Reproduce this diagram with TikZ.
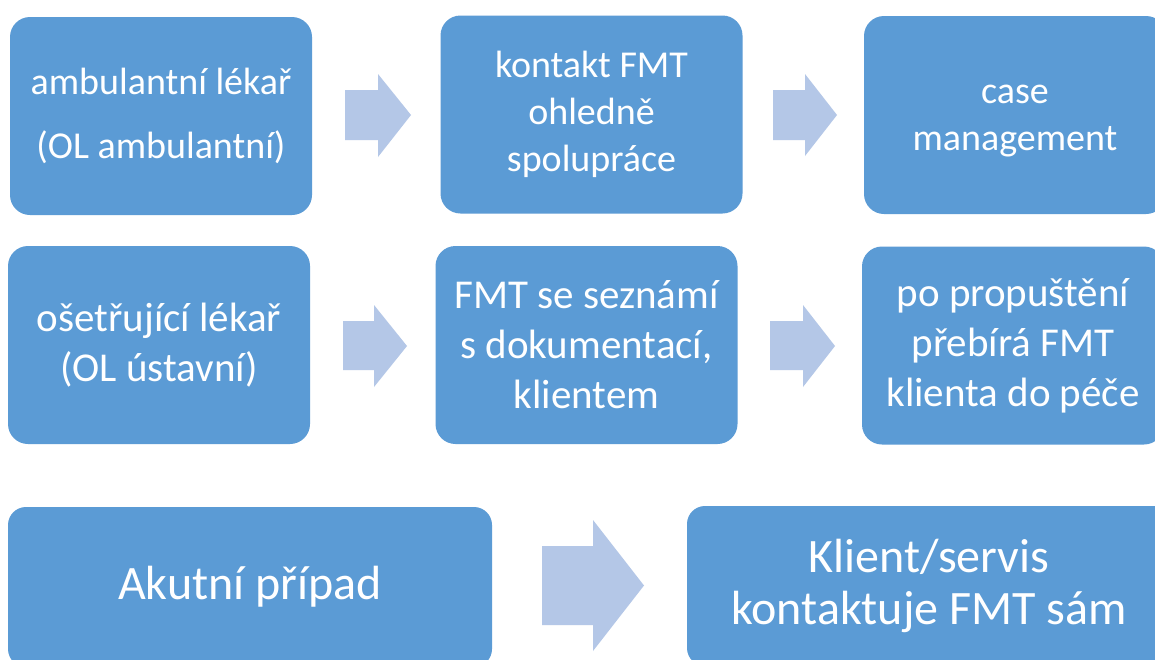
\documentclass[tikz,border=0pt]{standalone}
\usepackage{fontspec}
\setmainfont{Carlito}
\definecolor{boxblue}{HTML}{5B9BD5}
\definecolor{arrowblue}{HTML}{B4C7E7}
\begin{document}
\begin{tikzpicture}[x=1pt,y=-1pt,
  box/.style={fill=boxblue, draw=none, rounded corners=20pt, inner sep=0pt,
    text=white, align=center, minimum width=302pt, minimum height=198pt},
  label/.style={text=white, align=center, inner sep=0pt},
  rowone/.style={font=\fontsize{38}{47}\selectfont},
  rowtwo/.style={font=\fontsize{41}{50}\selectfont},
  rowthree/.style={font=\fontsize{48}{52}\selectfont, minimum width=484pt, minimum height=160pt, rounded corners=18pt},
  blockarrow/.style={fill=arrowblue, draw=none}]
\useasboundingbox (0,0) rectangle (1155,659);
\clip (0,0) rectangle (1155,659);
\fill[white] (0,0) rectangle (1155,659);
% row 1
\node[box, rowone] (b1) at (161,116) {ambulantní lékař\\[17pt](OL ambulantní)};
\node[box, rowone] (b2) at (591.5,114.5) {kontakt FMT\\ohledně\\spolupráce};
\node[box, rowone] (b3) at (1015,115) {};
\node[label, rowone] (b3t) at (1015,121) {case\\management};
% row 2
\node[box, rowtwo] (b4) at (159,345) {ošetřující lékař\\(OL ústavní)};
\node[box, rowtwo] (b5) at (586.5,345) {FMT se seznámí\\s dokumentací,\\klientem};
\node[box, rowtwo] (b6) at (1013,345.5) {po propuštění\\přebírá FMT\\klienta do péče};
% row 3
\node[box, rowthree] (b7) at (250,587) {Akutní případ};
\node[box, rowthree] (b8) at (929,586) {Klient/servis\\kontaktuje FMT sám};
% block arrows
\fill[blockarrow] (345,90) -- (378,90) -- (378,74) -- (411,115) -- (378,157) -- (378,140) -- (345,140) -- cycle;
\fill[blockarrow] (773,90) -- (805,90) -- (805,74) -- (837,115) -- (805,156) -- (805,140) -- (773,140) -- cycle;
\fill[blockarrow] (343,321) -- (374,321) -- (374,305) -- (407,346) -- (374,387) -- (374,370) -- (343,370) -- cycle;
\fill[blockarrow] (770,321) -- (803,321) -- (803,305) -- (835,346) -- (803,387) -- (803,370) -- (770,370) -- cycle;
\fill[blockarrow] (542,546) -- (593,546) -- (593,520) -- (644,585.5) -- (593,651) -- (593,625) -- (542,625) -- cycle;
\end{tikzpicture}
\end{document}
